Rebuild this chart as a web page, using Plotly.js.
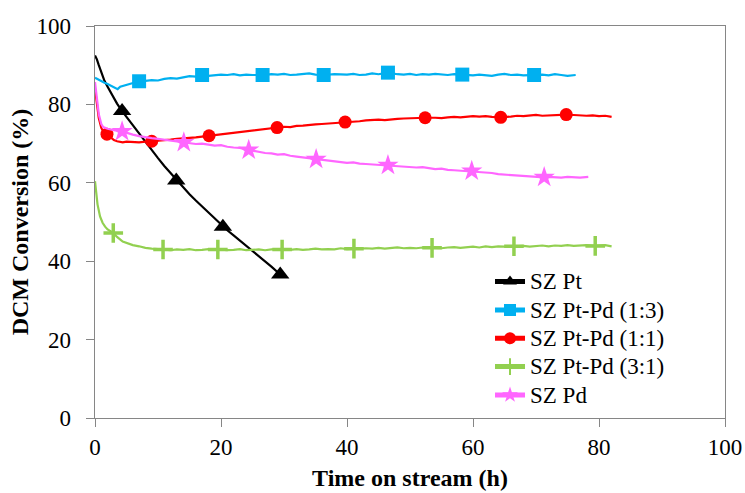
<!DOCTYPE html>
<html>
<head>
<meta charset="utf-8">
<script src="https://cdn.plot.ly/plotly-3.0.1.min.js"></script>
<style>html,body{margin:0;padding:0;background:#fff;}#chart{width:745px;height:493px;}</style>
</head>
<body>
<div id="chart"></div>
<script>
// SZ Pt
const ptX = [0,0.3,0.6,1,1.5,2,2.5,3,3.5,4.3,5,6,7,8,9,10,11,12,12.9,14,15,16,17,18,19,20.3,21,22,23,24,25,26,27,28,29.4];
const ptY = [92.5,91.5,90,88,86,84.5,83,81.5,80.2,78.3,76.8,74.6,72.5,70.3,68.4,66.3,64.3,62.5,60.6,58.7,57.1,55.5,54,52.4,50.8,48.8,47.9,46.6,45.3,44,42.6,41.3,40,38.6,36.6];
const ptMarkX = [4.3,12.9,20.3,29.4];

// SZ Pt-Pd (1:3)
const b13X = [0,0.5,1,1.5,2,2.5,3,3.6,4,5,6,7,8,9,10,11,12,13,14,15,16,17,18,19,20,21,22,23,24,25,26.6,28,29,30,31,32,33,34,35,36.3,38,40,41,42,43,44,45,46.5,48,49,50,51,52,53,54,55,56,57,58.3,60,61,62,63,64,65,66,67,68,69.7,71,72,73,74,75,76.3];
const b13Y = [86.8,86.3,85.8,85.5,85.2,84.8,84.3,83.9,84.5,85,85.3,85.9,86,86.2,86.1,86.5,86.7,86.6,86.9,87.2,87.1,87.5,87.3,87.4,87.6,87.5,87.7,87.4,87.6,87.5,87.5,87.7,87.6,87.8,87.5,87.6,87.7,87.9,87.6,87.5,87.7,87.6,87.8,87.5,87.6,87.9,87.7,88.1,87.7,87.6,87.8,87.5,87.7,87.6,87.8,87.7,87.5,87.7,87.6,87.4,87.6,87.5,87.3,87.6,87.8,87.5,87.6,87.4,87.5,87.6,87.4,87.7,87.5,87.3,87.5];
const b13MarkX = [7,17,26.6,36.3,46.5,58.3,69.7];

// SZ Pt-Pd (1:1)
const b11X = [0,0.3,0.6,1,1.4,1.9,2.5,3,3.5,4.4,5,6,7,8,9,10,11,12,13,14,15,16,17,18.1,19,20,21,22,23,24,25,26,27,28,28.9,30,31,32,33,34,35,36,37,38,39,39.7,41,42,43,44,45,46,47,48,49,50,51,52.4,54,55,56,57,58,59,60,61,62,63,64.4,66,67,68,69,70,71,72,73,74.8,76,77,78,79,80,81,82];
const b11Y = [84,80,76.5,74,72.8,72.4,71.5,70.9,70.6,70.3,70.5,70.4,70.3,70.5,70.6,70.8,70.9,71,71.2,71.3,71.4,71.6,71.8,72,72.3,72.5,72.6,72.8,73,73.2,73.3,73.5,73.7,73.9,74.1,74.3,74.2,74.5,74.6,74.8,74.9,75,75.1,75.2,75.4,75.5,75.6,75.7,75.9,76,76.1,76,76.2,76.3,76.4,76.5,76.6,76.6,76.6,76.5,76.7,76.8,76.7,76.8,77,76.9,77,76.8,76.7,76.9,77.1,77,77.2,77.3,77.1,77.2,77.3,77.4,77.3,77.2,77.1,77.2,77,77.1,76.8];
const b11MarkX = [1.9,9,18.1,28.9,39.7,52.4,64.4,74.8];

// SZ Pt-Pd (3:1)
const b31X = [0,0.2,0.4,0.8,1.2,1.6,2,2.9,3.5,4.4,5,6,7,8,9,10,10.8,12,13,14,15,16,17,18,19.5,21,22,23,24,25,26,27,28,29.7,31,32,33,34,35,36,37,38,39,40,41.1,42,43,44,45,46,47,48,49,50,51,52,53.5,55,56,57,58,59,60,61,62,63,64,65,66.5,68,69,70,71,72,73,74,75,76,77,78,79.4,80,81,82];
const b31Y = [60.4,57,54.5,51.4,49.8,48.8,48.1,47.2,46.2,45,44.6,44.1,43.8,43.4,43.2,43.1,43,42.8,43,42.9,43.1,42.8,42.9,43.1,43,42.8,42.9,43.1,42.8,42.9,43,42.8,43,43,42.9,43.1,42.9,43,43.2,43,43.1,43,43.3,43.1,43.2,43.1,43.3,43.2,43.4,43.2,43.3,43.5,43.3,43.4,43.3,43.5,43.4,43.3,43.5,43.6,43.4,43.6,43.7,43.5,43.8,43.6,43.8,43.7,43.8,43.9,43.7,43.9,44,43.8,44,43.9,44.1,43.9,44,44.1,43.9,44,44.1,43.8];
const b31MarkX = [2.9,10.8,19.5,29.7,41.1,53.5,66.5,79.4];

// SZ Pd
const pdX = [0,0.3,0.6,1,1.3,2,3,4.3,5,6,7,8,9,10,11,12,13,14.1,15,16,17,18,19,20,21,22,23,24.4,25,26,27,28,29,30,31,32,33,34,35.1,36,37,38,39,40,41,42,43,44,45,46.5,48,49,50,51,52,53,54,55,56,57,58,59.8,61,62,63,64,65,66,67,68,69,70,71.3,72,73,74,75,76,77,78.3];
const pdY = [85.7,81,77.5,75,74.2,73.8,73.4,73.1,72.7,72.3,71.9,71.6,71.4,71.2,71,70.8,70.5,70.3,70.2,69.9,70,69.7,69.5,69.6,69.2,69,68.9,68.4,68.2,67.9,67.6,67.5,67.2,67.3,66.9,66.7,66.5,66.3,66,65.8,65.7,65.4,65.3,65.1,65.2,64.9,64.8,64.7,64.6,64.5,64.3,64.1,64,63.9,64,63.7,63.5,63.6,63.3,63.2,63.1,63,62.8,62.6,62.5,62.2,62.1,61.9,61.8,61.7,61.6,61.5,61.4,61.5,61.4,61.3,61.5,61.4,61.3,61.5];
const pdMarkX = [4.3,14.1,24.4,35.1,46.5,59.8,71.3];

const seriesNames = ['SZ Pt','SZ Pt-Pd (1:3)','SZ Pt-Pd (1:1)','SZ Pt-Pd (3:1)','SZ Pd'];
const xTickVals = [0,20,40,60,80,100];
const yTickVals = [0,20,40,60,80,100];

const SERIF = '"Liberation Serif", "Times New Roman", Times, serif';

function mk(name, x, y, markX, color, symbol, size, extra) {
  const sizes = x.map(v => markX.includes(v) ? size : 0);
  const marker = Object.assign({symbol: symbol, size: sizes, color: color, opacity: 1, line: {width: 0, color: color}}, extra || {});
  return {type: 'scatter', mode: 'lines+markers', name: '<span style="font-size:23px">' + name + '</span>', x: x, y: y,
    line: {color: color, width: 2.2}, marker: marker, hoverinfo: 'skip'};
}

const traces = [
  mk(seriesNames[0], ptX, ptY, ptMarkX, '#000000', 'triangle-up', 16),
  mk(seriesNames[1], b13X, b13Y, b13MarkX, '#00B0F0', 'square', 14),
  mk(seriesNames[2], b11X, b11Y, b11MarkX, '#FF0000', 'circle', 13),
  mk(seriesNames[3], b31X, b31Y, b31MarkX, '#92D050', 'cross-thin', 14, {line: {width: 3.5, color: '#92D050'}}),
  mk(seriesNames[4], pdX, pdY, pdMarkX, '#FF66FF', 'star', 16)
];

const axisCommon = {
  showgrid: false, zeroline: false, showline: true, mirror: true,
  linecolor: '#868686', linewidth: 1.3, ticks: 'outside', ticklen: 8, tickcolor: '#868686',
  tickfont: {family: SERIF, size: 23, color: '#000'}
};

const layout = {
  width: 745, height: 493,
  margin: {l: 95, r: 20, t: 26, b: 75},
  paper_bgcolor: '#fff', plot_bgcolor: '#fff',
  showlegend: true,
  legend: {x: 0.627, y: 0.397, xanchor: 'left', yanchor: 'top', bgcolor: 'rgba(0,0,0,0)',
    itemsizing: 'constant', font: {family: SERIF, size: 19.5, color: '#000'}},
  xaxis: Object.assign({}, axisCommon, {range: [0, 100], tickvals: xTickVals,
    title: {text: '<b>Time on stream (h)</b>', font: {family: SERIF, size: 24, color: '#000'}, standoff: 10}}),
  yaxis: Object.assign({}, axisCommon, {range: [0, 100], tickvals: yTickVals, ticklabelstandoff: 10,
    title: {text: '<b>DCM Conversion (%)</b>', font: {family: SERIF, size: 24, color: '#000'}, standoff: 1}})
};

Plotly.newPlot('chart', traces, layout, {staticPlot: true});
</script>
</body>
</html>
